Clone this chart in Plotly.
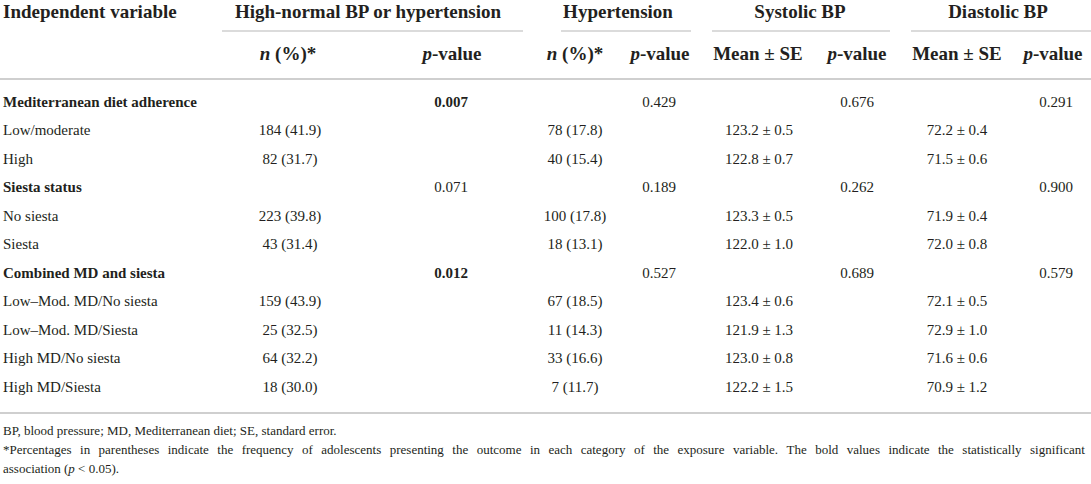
import plotly.graph_objects as go

# table content
labels = ["Mediterranean diet adherence", "Low/moderate", "High",
          "Siesta status", "No siesta", "Siesta",
          "Combined MD and siesta", "Low–Mod. MD/No siesta", "Low–Mod. MD/Siesta",
          "High MD/No siesta", "High MD/Siesta"]
group_rows = [0, 3, 6]

hn_n = ["", "184 (41.9)", "82 (31.7)", "", "223 (39.8)", "43 (31.4)",
        "", "159 (43.9)", "25 (32.5)", "64 (32.2)", "18 (30.0)"]
hn_p = ["0.007", "", "", "0.071", "", "", "0.012", "", "", "", ""]
hn_sig = ["0.007", "0.012"]
ht_n = ["", "78 (17.8)", "40 (15.4)", "", "100 (17.8)", "18 (13.1)",
        "", "67 (18.5)", "11 (14.3)", "33 (16.6)", "7 (11.7)"]
ht_p = ["0.429", "", "", "0.189", "", "", "0.527", "", "", "", ""]
sys_mean = ["", "123.2 ± 0.5", "122.8 ± 0.7", "", "123.3 ± 0.5", "122.0 ± 1.0",
            "", "123.4 ± 0.6", "121.9 ± 1.3", "123.0 ± 0.8", "122.2 ± 1.5"]
sys_p = ["0.676", "", "", "0.262", "", "", "0.689", "", "", "", ""]
dia_mean = ["", "72.2 ± 0.4", "71.5 ± 0.6", "", "71.9 ± 0.4", "72.0 ± 0.8",
            "", "72.1 ± 0.5", "72.9 ± 1.0", "71.6 ± 0.6", "70.9 ± 1.2"]
dia_p = ["0.291", "", "", "0.900", "", "", "0.579", "", "", "", ""]

group_headers = ["High-normal BP or hypertension", "Hypertension", "Systolic BP", "Diastolic BP"]
sub_headers = ["<i>n</i> (%)*", "<i>p</i>-value", "<i>n</i> (%)*", "<i>p</i>-value",
               "Mean ± SE", "<i>p</i>-value", "Mean ± SE", "<i>p</i>-value"]
footnotes = ["BP, blood pressure; MD, Mediterranean diet; SE, standard error.",
             "*Percentages in parentheses indicate the frequency of adolescents presenting the outcome in each category of the exposure variable. The bold values indicate the statistically significant",
             "association (<i>p</i> < 0.05)."]

W, H = 1091, 484
FONT = "Liberation Serif"
TXT = "#231f20"
LINE = "#cfcfcf"

row_y = [103 + 28.5 * i for i in range(len(labels))]
col_x = [290, 451, 575, 659, 759, 857, 957, 1056]   # data column centres
head_x = [288, 452, 575, 660, 758, 857, 957, 1053]  # sub-header centres
group_x = [368, 618, 800, 998]
group_lines = [(222, 523), (561, 691), (712, 890), (911, 1091)]

fig = go.Figure()


def text_trace(xs, ys, txt, size, pos="middle center"):
    return go.Scatter(x=xs, y=ys, mode="text", text=txt, textposition=pos,
                      textfont=dict(family=FONT, size=size, color=TXT),
                      cliponaxis=False, hoverinfo="skip")


# row labels
fig.add_trace(text_trace([3] * len(labels), row_y,
                         ["<b>%s</b>" % l if i in group_rows else l for i, l in enumerate(labels)],
                         15, "middle right"))

columns = [hn_n, hn_p, ht_n, ht_p, sys_mean, sys_p, dia_mean, dia_p]
for cx, col in zip(col_x, columns):
    txt = ["<b>%s</b>" % v if (col is hn_p and v in hn_sig) else v for v in col]
    fig.add_trace(text_trace([cx] * len(col), row_y, txt, 15))

# headers
fig.add_trace(text_trace([3], [13], ["<b>Independent variable</b>"], 19, "middle right"))
fig.add_trace(text_trace(group_x, [13] * 4, ["<b>%s</b>" % g for g in group_headers], 19))
fig.add_trace(text_trace(head_x, [55] * len(head_x), ["<b>%s</b>" % s for s in sub_headers], 19))

# footnotes - the middle line is justified in the original, so widen its word gaps
foot_txt = list(footnotes)
foot_txt[1] = foot_txt[1].replace(" ", " \u2009\u2009")
fig.add_trace(text_trace([3] * 3, [432, 451, 470], foot_txt, 13, "middle right"))

# rules
for x0, x1 in group_lines:
    fig.add_shape(type="line", x0=x0, x1=x1, y0=31, y1=31, xref="x", yref="y",
                  line=dict(color=LINE, width=1.5))
for yy in [79, 413]:
    fig.add_shape(type="line", x0=0, x1=W, y0=yy, y1=yy, xref="x", yref="y",
                  line=dict(color=LINE, width=2))

fig.update_layout(
    width=W, height=H, margin=dict(l=0, r=0, t=0, b=0),
    paper_bgcolor="white", plot_bgcolor="white", showlegend=False,
    xaxis=dict(range=[0, W], visible=False, fixedrange=True),
    yaxis=dict(range=[H, 0], visible=False, fixedrange=True),
)

# drop the default page margin so the table sits flush in the window
fig.write_html("out.html", config={"displayModeBar": False},
               post_script="document.body.style.margin='0';document.body.style.overflow='hidden';")
